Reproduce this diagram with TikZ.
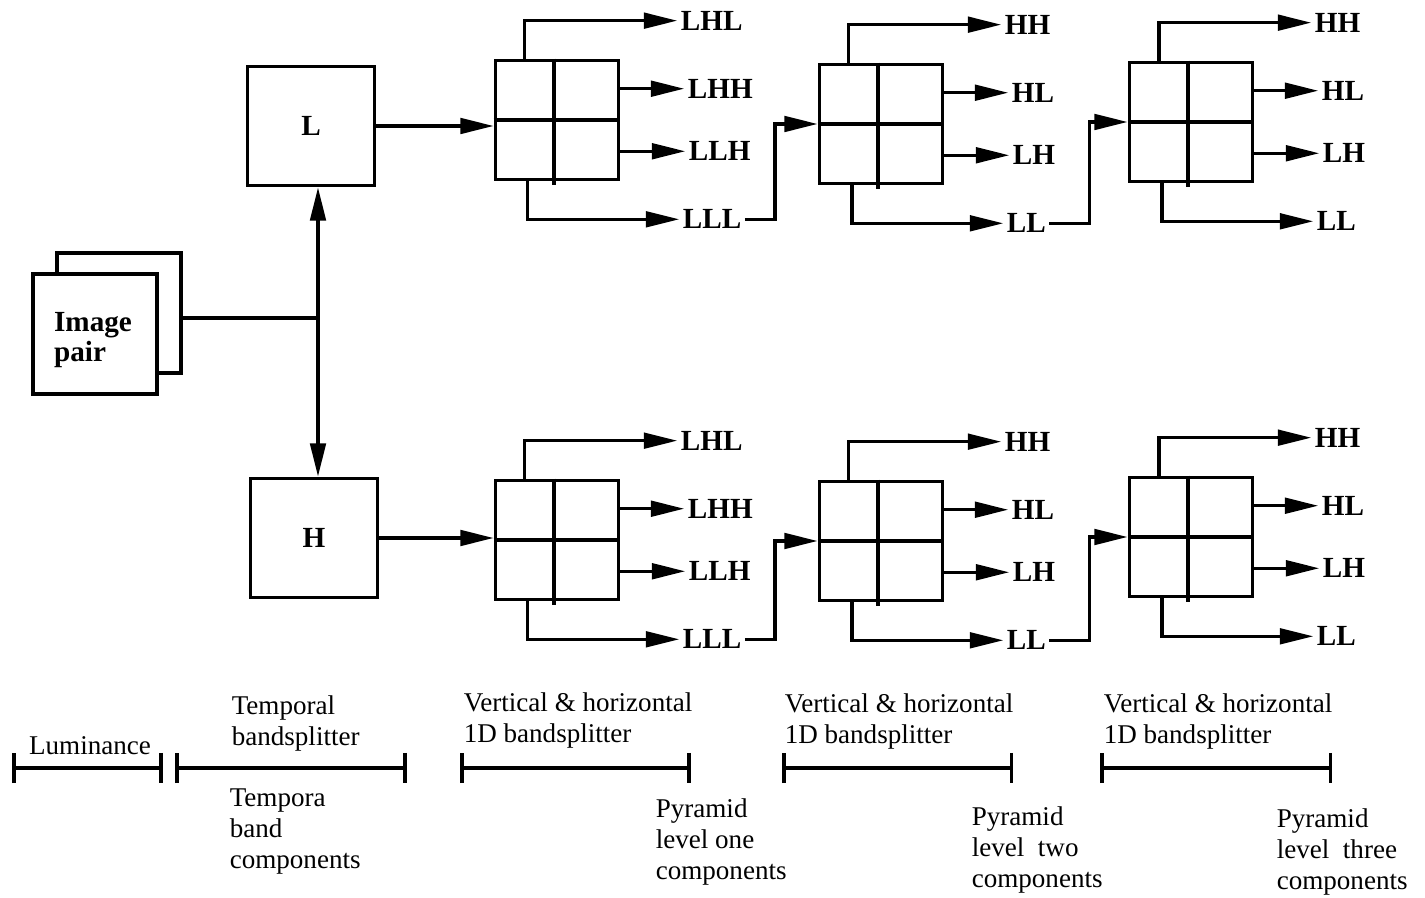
\documentclass[tikz,border=0pt]{standalone}
\usepackage{fontspec}
\setmainfont{Liberation Serif}
\usetikzlibrary{arrows.meta}

\begin{document}
\begin{tikzpicture}[x=0.01cm, y=-0.01cm, line width=1pt,
    every node/.style={font=\fontsize{7.7}{8.8}\selectfont},
    box/.style={draw, minimum width=1.27cm, minimum height=1.19cm, inner sep=0pt,
        font=\fontsize{8.3}{8.6}\selectfont\bfseries},
    grid/.style={draw, minimum width=1.23cm, minimum height=1.19cm, inner sep=0pt},
    band/.style={anchor=west, inner sep=0.5pt, font=\fontsize{8.3}{9.6}\selectfont\bfseries},
    arr/.style={-{Triangle[length=9.5pt,width=4.4pt]}},
    dbl/.style={{Triangle[length=9.5pt,width=4.4pt]}-{Triangle[length=9.5pt,width=4.4pt]}},
    bar/.style={{Bar[width=0.3cm]}-{Bar[width=0.3cm]}},
    note/.style={align=left, anchor=north west, inner sep=0pt}]
        \useasboundingbox (0,0) rectangle (1425,898);

        \node[box, minimum width=1.24cm, minimum height=1.20cm] (img2) at (119,313) {};
        \node[box, minimum width=1.24cm, minimum height=1.20cm, fill=white] (img1) at (95,334) {};
        \node[box, draw=none, minimum size=0pt, align=left] (imgtxt) at (93,340) {Image\\pair};

        \node[box] (L) at (311,126) {L};
        \node[box] (H) at (314,538) {H};

        \coordinate (junc) at (318,318);
        \draw (img2.east |- junc) -- (junc);
        \draw[dbl] (junc |- L.south) -- (junc |- H.north);

        \foreach \g/\x/\y in {g1/557/120, g2/881/124, g3/1191/122,
                               g4/557/540, g5/881/541, g6/1191/537} {
            \node[grid] (\g) at (\x,\y) {};
            \draw (\g.west) -- (\g.east);
            \draw ([xshift=-0.03cm]\g.north) -- ([xshift=-0.03cm, yshift=-0.04cm]\g.south);
        }

        \foreach \g/\a/\b/\c/\d in {g1/LHL/LHH/LLH/LLL, g2/HH/HL/LH/LL, g3/HH/HL/LH/LL,
                                     g4/LHL/LHH/LLH/LLL, g5/HH/HL/LH/LL, g6/HH/HL/LH/LL} {
            \coordinate (\g-t) at ([xshift=0.31cm]\g.north west);
            \coordinate (\g-b) at ([xshift=0.34cm]\g.south west);
            \node[band] (\g-a) at ([xshift=0.57cm, yshift=0.38cm]\g.north east) {\a};
            \node[band] (\g-b1) at ([xshift=0.64cm, yshift=-0.30cm]\g.north east) {\b};
            \node[band] (\g-c) at ([xshift=0.65cm, yshift=0.30cm]\g.south east) {\c};
            \node[band] (\g-d) at ([xshift=0.59cm, yshift=-0.38cm]\g.south east) {\d};
            \draw[arr] (\g-t) |- (\g-a.west);
            \draw[arr] (\g-b1.west -| \g.east) -- (\g-b1.west);
            \draw[arr] (\g-c.west -| \g.east) -- (\g-c.west);
            \draw[arr] (\g-b) |- (\g-d.west);
        }

        \draw[arr] (L.east) -- (L.east -| g1.west);
        \draw[arr] (H.east) -- (H.east -| g4.west);
        \draw[arr] (g1-d.east) -- ++(30,0) |- (g2.west);
        \draw[arr] (g2-d.east) -- ++(40,0) |- (g3.west);
        \draw[arr] (g4-d.east) -- ++(30,0) |- (g5.west);
        \draw[arr] (g5-d.east) -- ++(40,0) |- (g6.west);

        \draw[bar] (12,768) -- (163,768);
        \draw[bar] (175,768) -- (407,768);
        \draw[bar] (460,768) -- (691,768);
        \draw[bar] (782,768) -- (1013,768);
        \draw[bar] (1100,768) -- (1332,768);

        \node[anchor=base] (lum) at (90,754) {Luminance};
        \node[note] (tsplit) at (230,694) {Temporal\\bandsplitter};
        \node[note] (tcomp) at (228,787) {Tempora\\band\\components};
        \node[note] (split1) at (462,691) {Vertical \& horizontal\\1D bandsplitter};
        \node[note] (split2) at (783,692) {Vertical \& horizontal\\1D bandsplitter};
        \node[note] (split3) at (1102,692) {Vertical \& horizontal\\1D bandsplitter};
        \node[note] (pyr1) at (654,797) {Pyramid\\level one\\components};
        \node[note] (pyr2) at (970,805) {Pyramid\\level\ \ two\\components};
        \node[note] (pyr3) at (1275,807) {Pyramid\\level\ \ three\\components};
\end{tikzpicture}
\end{document}
